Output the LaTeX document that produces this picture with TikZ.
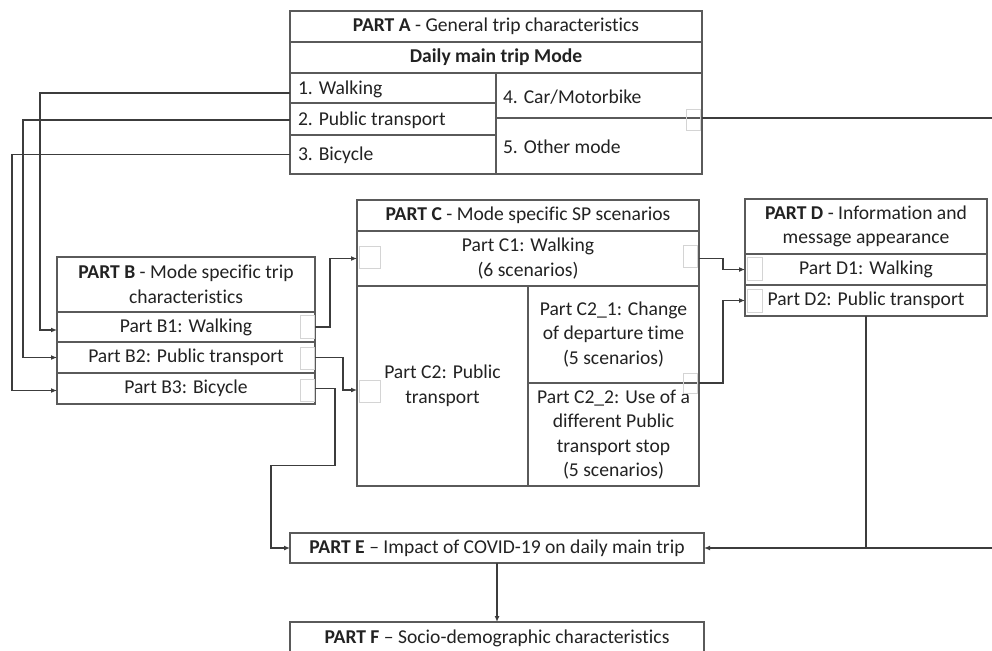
\documentclass[tikz,border=0pt]{standalone}
\usepackage{fontspec}
\setmainfont{Carlito}[Ligatures={NoCommon,NoContextual}]
\usetikzlibrary{arrows.meta}
\definecolor{boxc}{HTML}{5A5A5A}
\definecolor{linec}{HTML}{3C3C3C}
\definecolor{portc}{HTML}{D4D4D4}
\definecolor{txtc}{HTML}{222222}
\begin{document}
\begin{tikzpicture}[x=1pt,y=-1pt,
  every node/.style={font=\fontsize{19.6pt}{24.5pt}\selectfont, text=txtc, inner sep=0pt, outer sep=0pt},
  wh/.style n args={2}{minimum width=#1pt, minimum height=#2pt},
  cell/.style={draw=boxc, line width=1.3pt, rectangle, anchor=north west, align=center},
  lefttxt/.style={anchor=west},
  conn/.style={draw=linec, line width=1.3pt, -{Latex[length=6pt,width=5pt]}},
  plain/.style={draw=linec, line width=1.3pt},
  port/.style={draw=portc, line width=1pt}
]
\useasboundingbox (0,0) rectangle (992,650);
\clip (0,0) rectangle (992,650);
\fill[white] (0,0) rectangle (992,650);

% PART A
\node[cell, wh={412}{31}] (Ahead) at (290,11) {\textbf{PART A} - General trip characteristics};
\node[cell, wh={412}{31}] (Amode) at (290,42) {\textbf{Daily main trip Mode}};
\node[cell, wh={206}{30}] (A1) at (290,73) {};
\node[cell, wh={206}{32}] (A2) at (290,103) {};
\node[cell, wh={206}{39}] (A3) at (290,135) {};
\node[cell, wh={206}{45}] (A4) at (496,73) {};
\node[cell, wh={206}{56}] (A5) at (496,118) {};
\node[lefttxt] (A1t) at (298,89) {1. Walking};
\node[lefttxt] (A2t) at (298,120) {2. Public transport};
\node[lefttxt] (A3t) at (298,155) {3. Bicycle};
\node[lefttxt] (A4t) at (503,97) {4. Car/Motorbike};
\node[lefttxt] (A5t) at (503,147) {5. Other mode};

% PART B
\node[cell, wh={258}{55}] (Bhead) at (57,257) {\textbf{PART B} - Mode specific trip\\characteristics};
\node[cell, wh={258}{30}] (B1) at (57,312) {Part B1: Walking};
\node[cell, wh={258}{31}] (B2) at (57,342) {Part B2: Public transport};
\node[cell, wh={258}{31}] (B3) at (57,373) {Part B3: Bicycle};

% PART C
\node[cell, wh={342}{31}] (Chead) at (357,200) {\textbf{PART C} - Mode specific SP scenarios};
\node[cell, wh={342}{55}] (C1) at (357,231) {Part C1: Walking\\(6 scenarios)};
\node[cell, wh={171}{200}] (C2) at (357,286) {Part C2: Public\\transport};
\node[cell, wh={171}{97}] (C21) at (528,286) {Part C2\_1: Change\\of departure time\\(5 scenarios)};
\node[cell, wh={171}{103}] (C22) at (528,383) {Part C2\_2: Use of a\\different Public\\transport stop\\(5 scenarios)};

% PART D
\node[cell, wh={242}{55}] (Dhead) at (745,199) {\textbf{PART D} - Information and\\message appearance};
\node[cell, wh={242}{31}] (D1) at (745,254) {Part D1: Walking};
\node[cell, wh={242}{31}] (D2) at (745,285) {Part D2: Public transport};

% PART E, F
\node[cell, wh={414}{30}] (E) at (290,533) {\textbf{PART E} – Impact of COVID-19 on daily main trip};
\node[cell, wh={414}{32}] (F) at (290,622) {\textbf{PART F} – Socio-demographic characteristics};

% connection-point squares
\draw[port] (686,110) rectangle (700,130);
\draw[port] (300,315) rectangle (314,338);
\draw[port] (300,347) rectangle (314,369);
\draw[port] (300,379) rectangle (314,401);
\draw[port] (359,246) rectangle (380,268);
\draw[port] (683,245) rectangle (697,267);
\draw[port] (359,380) rectangle (380,402);
\draw[port] (683,373) rectangle (697,393);
\draw[port] (747,257) rectangle (762,280);
\draw[port] (747,289) rectangle (762,312);

% connectors
\draw[conn] ([yshift=-5pt]A1.west) -- ++(-250,0) |- ([yshift=-3pt]B1.west);
\draw[conn] ([yshift=-1pt]A2.west) -- ++(-267,0) |- (B2.west);
\draw[conn] (A3.west) -- ++(-278,0) |- ([yshift=-2pt]B3.west);
\draw[conn] (B1.east) -- ++(15,0) |- (C1.west);
\draw[conn] (B2.east) -- ++(28,0) |- ([yshift=-4pt]C2.west);
\draw[conn] (B3.east) -- ++(20,0) -- ++(0,77) -- ++(-64,0) |- (E.west);
\draw[conn] (C1.east) -- ++(24,0) |- (D1.west);
\draw[conn] (C21.south east) -- ++(24,0) |- (D2.west);
\coordinate (aout) at (992,118);
\draw[plain] (A4.south east) -- (aout);
\coordinate (ein) at (992,548);
\draw[conn] (ein) -- (E.east);
\draw[plain] (D2.south) -- (D2.south |- E.east);
\draw[conn] (E.south) -- (F.north);
\end{tikzpicture}
\end{document}
